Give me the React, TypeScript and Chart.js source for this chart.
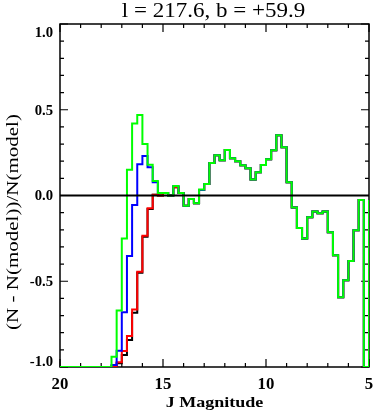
import React, { useEffect, useRef } from "react";
import { Chart, registerables } from "chart.js";

Chart.register(...registerables);

// Bin starting magnitudes (bins are 0.25 mag wide, running from 20 down to 5)
const binStarts = [
  20.0, 19.75, 19.5, 19.25, 19.0, 18.75, 18.5, 18.25, 18.0, 17.75,
  17.5, 17.25, 17.0, 16.75, 16.5, 16.25, 16.0, 15.75, 15.5, 15.25,
  15.0, 14.75, 14.5, 14.25, 14.0, 13.75, 13.5, 13.25, 13.0, 12.75,
  12.5, 12.25, 12.0, 11.75, 11.5, 11.25, 11.0, 10.75, 10.5, 10.25,
  10.0, 9.75, 9.5, 9.25, 9.0, 8.75, 8.5, 8.25, 8.0, 7.75,
  7.5, 7.25, 7.0, 6.75, 6.5, 6.25, 6.0, 5.75, 5.5, 5.25,
];
const lastBinEnd = 5.0;

const greenValues = [
  -1, -1, -1, -1, -1, -1, -1, -1, -1, -1,
  -0.94, -0.67, -0.25, 0.15, 0.42, 0.47, 0.30, 0.18, 0.085, 0.015,
  0.015, 0.0, 0.055, 0.015, -0.06, -0.02, -0.045, 0.035, 0.067, 0.19,
  0.235, 0.205, 0.265, 0.217, 0.199, 0.176, 0.159, 0.094, 0.135, 0.178,
  0.211, 0.264, 0.351, 0.281, 0.077, -0.07, -0.19, -0.25, -0.127, -0.094,
  -0.104, -0.094, -0.215, -0.349, -0.594, -0.494, -0.382, -0.203, -0.026, -1.0,
];
const greenEndValue = -0.026;

const blueValues = [
  -1, -1, -1, -1, -1, -1, -1, -1, -1, -1,
  -0.988, -0.905, -0.681, -0.353, -0.055, 0.182, 0.23, 0.164, 0.077, 0.015,
  0.015, 0.0, 0.055, 0.015, -0.06, -0.02, -0.045, 0.032, 0.067, 0.19,
  0.235, 0.205, 0.265, 0.217, 0.199, 0.176, 0.159, 0.094, 0.135, 0.178,
  0.211, 0.264, 0.351, 0.281, 0.077, -0.07, -0.19, -0.25, -0.127, -0.094,
  -0.104, -0.094, -0.215, -0.349, -0.594, -0.494, -0.382, -0.203, -0.026, -1.0,
];

const redValues = [
  -1, -1, -1, -1, -1, -1, -1, -1, -1, -1,
  -0.994, -0.973, -0.907, -0.819, -0.664, -0.444, -0.234, -0.075, 0.004, 0.0,
  0.015, 0.0, 0.048, 0.015, -0.06, -0.02, -0.045, 0.032, 0.067, 0.19,
  0.235, 0.205, 0.265, 0.217, 0.199, 0.176, 0.159, 0.094, 0.135, 0.178,
  0.211, 0.264, 0.351, 0.281, 0.077, -0.07, -0.19, -0.25, -0.127, -0.094,
  -0.104, -0.094, -0.215, -0.349, -0.594, -0.494, -0.382, -0.203, -0.026, -1.0,
];

const blackValues = [
  -1, -1, -1, -1, -1, -1, -1, -1, -1, -1,
  -1.0, -0.978, -0.93, -0.843, -0.683, -0.45, -0.24, -0.079, 0.004, 0.0,
  0.015, 0.0, 0.048, 0.015, -0.06, -0.02, -0.045, 0.032, 0.067, 0.19,
  0.235, 0.205, 0.265, 0.217, 0.199, 0.176, 0.159, 0.094, 0.135, 0.178,
  0.211, 0.264, 0.351, 0.281, 0.077, -0.07, -0.19, -0.25, -0.127, -0.094,
  -0.104, -0.094, -0.215, -0.349, -0.594, -0.494, -0.382, -0.203, -0.026, -1.0,
];

const xMajorTicks = [20, 15, 10, 5];
const xTickLabels = ["20", "15", "10", "5"];
const yMajorTicks = [1.0, 0.5, 0.0, -0.5, -1.0];
const yTickLabels = ["1.0", "0.5", "0.0", "-0.5", "-1.0"];
const titleText = "l = 217.6, b = +59.9";
const xTitleText = "J Magnitude";
const yTitleText = "(N - N(model))/N(model)";

const FONT = '"Liberation Serif", "Times New Roman", serif';

function stepPoints(values: number[], endValue?: number) {
  const pts = binStarts.map((x, i) => ({ x, y: values[i] }));
  pts.push({ x: lastBinEnd, y: endValue !== undefined ? endValue : values[values.length - 1] });
  return pts;
}

function drawText(
  ctx: CanvasRenderingContext2D,
  text: string,
  x: number,
  y: number,
  font: string,
  sx: number,
  align: CanvasTextAlign,
  rotate = 0
) {
  ctx.save();
  ctx.translate(x, y);
  if (rotate) ctx.rotate(rotate);
  ctx.scale(sx, 1);
  ctx.font = font;
  ctx.textAlign = align;
  ctx.textBaseline = "alphabetic";
  ctx.fillStyle = "#000";
  ctx.fillText(text, 0, 0);
  ctx.restore();
}

const idlAxesPlugin = {
  id: "idlAxes",
  beforeDatasetsDraw(chart: any) {
    const { ctx, chartArea: a, scales } = chart;
    const xs = scales.x;
    const ys = scales.y;
    ctx.save();
    ctx.strokeStyle = "#000";

    // box
    ctx.lineWidth = 1.5;
    ctx.strokeRect(a.left, a.top, a.right - a.left, a.bottom - a.top);

    // x ticks (minor each 1 mag, major each 5)
    ctx.lineWidth = 1.2;
    for (let m = 5; m <= 20; m++) {
      const px = xs.getPixelForValue(m);
      const len = m % 5 === 0 ? 8 : 4;
      ctx.beginPath();
      ctx.moveTo(px, a.bottom);
      ctx.lineTo(px, a.bottom - len);
      ctx.moveTo(px, a.top);
      ctx.lineTo(px, a.top + len);
      ctx.stroke();
    }
    // y ticks (minor each 0.1, major each 0.5)
    for (let k = -10; k <= 10; k++) {
      const py = ys.getPixelForValue(k / 10);
      const len = k % 5 === 0 ? 8 : 4;
      ctx.beginPath();
      ctx.moveTo(a.left, py);
      ctx.lineTo(a.left + len, py);
      ctx.moveTo(a.right, py);
      ctx.lineTo(a.right - len, py);
      ctx.stroke();
    }

    // x tick labels
    xMajorTicks.forEach((m, i) => {
      const px = xs.getPixelForValue(m);
      drawText(ctx, xTickLabels[i], px, a.bottom + 22, `bold 16px ${FONT}`, 1.05, "center");
    });
    // y tick labels
    yMajorTicks.forEach((v, i) => {
      let py = ys.getPixelForValue(v);
      py = Math.min(Math.max(py, a.top + 8), a.bottom - 5.5);
      drawText(ctx, yTickLabels[i], a.left - 7, py + 4.8, `bold 14px ${FONT}`, 1.05, "right");
    });

    // titles
    const cx = (a.left + a.right) / 2;
    drawText(ctx, titleText, cx - 1, 17, `20px ${FONT}`, 1.15, "center");
    drawText(ctx, xTitleText, cx, a.bottom + 40, `bold 15px ${FONT}`, 1.2, "center");
    drawText(ctx, yTitleText, 18, 222, `17.5px ${FONT}`, 1.2, "center", -Math.PI / 2);

    ctx.restore();
  },
  afterDatasetsDraw(chart: any) {
    const { ctx, chartArea: a, scales } = chart;
    const ys = scales.y;
    ctx.save();
    ctx.strokeStyle = "#000";
    ctx.lineWidth = 2;
    const y0 = ys.getPixelForValue(0);
    ctx.beginPath();
    ctx.moveTo(a.left, y0);
    ctx.lineTo(a.right, y0);
    ctx.stroke();
    ctx.restore();
  },
};

export default function App() {
  const canvasRef = useRef<HTMLCanvasElement | null>(null);

  useEffect(() => {
    const canvas = canvasRef.current;
    if (!canvas) return;
    const mk = (label: string, data: any[], color: string, order: number) => ({
      label,
      data,
      borderColor: color,
      backgroundColor: color,
      borderWidth: 2,
      pointRadius: 0,
      stepped: true as const,
      fill: false,
      order,
    });
    const chart = new Chart(canvas, {
      type: "line",
      data: {
        datasets: [
          mk("green", stepPoints(greenValues, greenEndValue), "#00ff00", 0),
          mk("blue", stepPoints(blueValues), "#0000ff", 1),
          mk("red", stepPoints(redValues), "#ff0000", 2),
          mk("black", stepPoints(blackValues), "#000000", 3),
        ],
      },
      options: {
        responsive: false,
        animation: false,
        devicePixelRatio: 1,
        layout: { padding: { left: 60, right: 4, top: 24, bottom: 47 } },
        scales: {
          x: { type: "linear", min: 5, max: 20, reverse: true, display: false },
          y: { type: "linear", min: -1, max: 1, display: false },
        },
        plugins: {
          legend: { display: false },
          title: { display: false },
          tooltip: { enabled: false },
        },
      },
      plugins: [idlAxesPlugin],
    });
    return () => chart.destroy();
  }, []);

  return (
    <div style={{ position: "absolute", left: 0, top: 0, width: 373, height: 414, background: "#fff" }}>
      <canvas ref={canvasRef} width={373} height={414} />
    </div>
  );
}
